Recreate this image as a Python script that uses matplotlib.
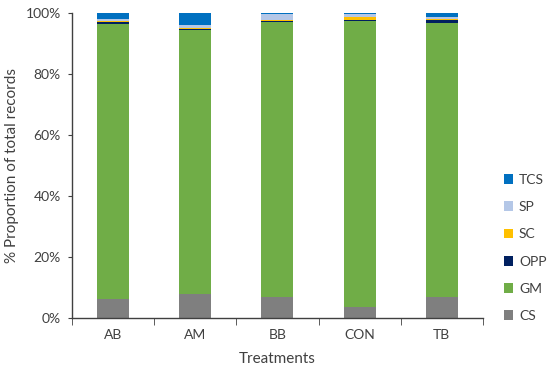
import matplotlib.pyplot as plt
import numpy as np

treatments = ['AB', 'AM', 'BB', 'CON', 'TB']
cs = [6.1, 8.0, 6.8, 3.6, 7.0]
gm = [90.3, 86.5, 90.2, 93.9, 89.8]
opp = [0.8, 0.3, 0.5, 0.3, 0.8]
sc = [0.3, 0.3, 0.1, 1.0, 0.3]
sp = [0.6, 1.0, 2.0, 1.0, 0.7]
tcs = [1.9, 3.9, 0.4, 0.2, 1.4]

series = [('CS', cs, '#7f7f7f'), ('GM', gm, '#70ad47'), ('OPP', opp, '#002060'),
          ('SC', sc, '#ffc000'), ('SP', sp, '#b4c7e7'), ('TCS', tcs, '#0070c0')]

plt.rcParams['font.family'] = ['Lato', 'DejaVu Sans']
txt = '#404040'

fig = plt.figure(figsize=(5.5, 3.72), dpi=100)
ax = fig.add_axes([0.131, 0.145, 0.747, 0.82])

x = np.arange(len(treatments))
bottom = np.zeros(len(treatments))
handles = []
for name, vals, col in series:
    b = ax.bar(x, vals, 0.39, bottom=bottom, color=col, label=name)
    bottom += np.array(vals)
    handles.append(b)

ax.set_xlim(-0.5, 4.5)
ax.set_ylim(0, 100)
ax.set_yticks(range(0, 101, 20))
ax.set_yticklabels([f'{v}%' for v in range(0, 101, 20)])
ax.set_xticks(x)
ax.set_xticklabels(treatments)
ax.set_xticks(np.arange(-0.5, 5, 1), minor=True)
ax.tick_params(axis='x', which='major', length=0, pad=8, labelsize=10, colors=txt)
ax.tick_params(axis='x', which='minor', length=5, color='#404040')
ax.tick_params(axis='y', length=3, labelsize=10, colors=txt, pad=5)
ax.tick_params(axis='y', color='#404040')

for sp_name in ['top', 'right']:
    ax.spines[sp_name].set_visible(False)
for sp_name in ['bottom', 'left']:
    ax.spines[sp_name].set_color('#404040')
    ax.spines[sp_name].set_linewidth(1.0)

ax.set_xlabel('Treatments', fontsize=11, color=txt, labelpad=8)
ax.set_ylabel('% Proportion of total records', fontsize=11, color=txt, labelpad=5)

leg = ax.legend(handles[::-1], [s[0] for s in series][::-1], loc='center left',
                bbox_to_anchor=(1.02, 0.23), frameon=False, fontsize=10,
                handlelength=0.7, handleheight=0.7, handletextpad=0.4,
                labelspacing=1.1)
for t in leg.get_texts():
    t.set_color(txt)

fig.savefig('out.png', dpi=100)
